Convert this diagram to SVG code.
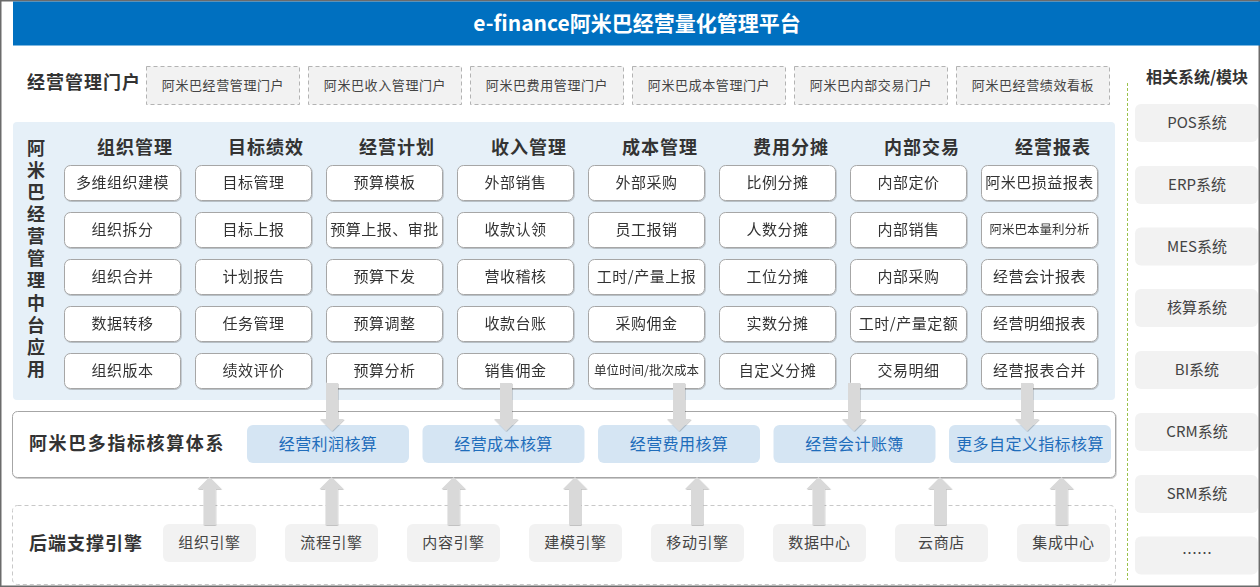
<svg xmlns="http://www.w3.org/2000/svg" width="1260" height="587" viewBox="0 0 1260 587">
<defs>
<style>
text{font-family:"Noto Sans CJK SC","Noto Sans",sans-serif;}
.title{font-size:21px;font-weight:bold;fill:#fff;}
.sec{font-size:18px;font-weight:bold;fill:#333;letter-spacing:1px;}
.hdr{font-size:18px;font-weight:bold;fill:#333;letter-spacing:1px;text-anchor:middle;}
.portal rect{fill:#f2f2f2;stroke:#b3b3b3;stroke-dasharray:4,3;stroke-width:1;}
.portal text{font-size:13px;fill:#444;text-anchor:middle;dominant-baseline:central;letter-spacing:0.6px;}
.nd rect{fill:#fff;stroke:#a6a6a6;stroke-width:1;}
.nd text{font-size:15px;fill:#333;text-anchor:middle;dominant-baseline:central;letter-spacing:0.5px;}
.nd text.sm{font-size:12.5px;letter-spacing:0;}
.acc rect{fill:#d5e5f3;}
.acc text{font-size:16px;fill:#1f6dbb;text-anchor:middle;dominant-baseline:central;letter-spacing:0.4px;}
.be rect{fill:#f2f2f2;}
.be text{font-size:15px;fill:#444;text-anchor:middle;dominant-baseline:central;letter-spacing:0.6px;}
.sys rect{fill:#f2f2f2;}
.sys text{font-size:15px;fill:#444;text-anchor:middle;dominant-baseline:central;}
.arr{fill:#d9d9d9;}
</style>
<filter id="sh" x="-10%" y="-10%" width="120%" height="130%">
<feDropShadow dx="0.6" dy="0.8" stdDeviation="0.7" flood-color="#000" flood-opacity="0.25"/>
</filter>
</defs>
<rect x="0" y="0" width="1260" height="587" fill="#fff"/>
<rect x="0.75" y="0.75" width="1258.5" height="585.5" fill="none" stroke="#6b6b6b" stroke-width="1.5"/>

<g id="header">
<rect x="13" y="1.5" width="1247" height="44" fill="#0070c0"/>
<text class="title" x="637" y="21.5" text-anchor="middle" dominant-baseline="central">e-finance阿米巴经营量化管理平台</text>
</g>

<g id="portal-row">
<text class="sec" x="27" y="81" dominant-baseline="central">经营管理门户</text>
<g class="portal" id="p1"><rect x="146.5" y="66.5" width="153" height="38"/><text x="223" y="84.5">阿米巴经营管理门户</text></g>
<g class="portal" id="p2"><rect x="308.5" y="66.5" width="153" height="38"/><text x="385" y="84.5">阿米巴收入管理门户</text></g>
<g class="portal" id="p3"><rect x="470.5" y="66.5" width="153" height="38"/><text x="547" y="84.5">阿米巴费用管理门户</text></g>
<g class="portal" id="p4"><rect x="632.5" y="66.5" width="153" height="38"/><text x="709" y="84.5">阿米巴成本管理门户</text></g>
<g class="portal" id="p5"><rect x="794.5" y="66.5" width="153" height="38"/><text x="871" y="84.5">阿米巴内部交易门户</text></g>
<g class="portal" id="p6"><rect x="956.5" y="66.5" width="153" height="38"/><text x="1033" y="84.5">阿米巴经营绩效看板</text></g>
</g>

<g id="middle-panel">
<rect x="13" y="122" width="1102" height="278" rx="4" fill="#e6f0f8"/>
<text class="sec" x="36" y="139" writing-mode="vertical-rl" style="letter-spacing:4.1px">阿米巴经营管理中台应用</text>
<g id="headers">
<text class="hdr" x="135" y="146" dominant-baseline="central">组织管理</text>
<text class="hdr" x="266" y="146" dominant-baseline="central">目标绩效</text>
<text class="hdr" x="397" y="146" dominant-baseline="central">经营计划</text>
<text class="hdr" x="529" y="146" dominant-baseline="central">收入管理</text>
<text class="hdr" x="660" y="146" dominant-baseline="central">成本管理</text>
<text class="hdr" x="791" y="146" dominant-baseline="central">费用分摊</text>
<text class="hdr" x="922" y="146" dominant-baseline="central">内部交易</text>
<text class="hdr" x="1053" y="146" dominant-baseline="central">经营报表</text>
</g>
</g>

<g id="grid" filter="url(#sh)">
<g class="nd" id="n1-1"><rect x="64.5" y="165.5" width="116" height="35" rx="6"/><text x="122.5" y="181.5">多维组织建模</text></g>
<g class="nd" id="n1-2"><rect x="64.5" y="212.5" width="116" height="35" rx="6"/><text x="122.5" y="228.5">组织拆分</text></g>
<g class="nd" id="n1-3"><rect x="64.5" y="259.5" width="116" height="35" rx="6"/><text x="122.5" y="275.5">组织合并</text></g>
<g class="nd" id="n1-4"><rect x="64.5" y="306.5" width="116" height="35" rx="6"/><text x="122.5" y="322.5">数据转移</text></g>
<g class="nd" id="n1-5"><rect x="64.5" y="353.5" width="116" height="35" rx="6"/><text x="122.5" y="369.5">组织版本</text></g>

<g class="nd" id="n2-1"><rect x="195.5" y="165.5" width="116" height="35" rx="6"/><text x="253.5" y="181.5">目标管理</text></g>
<g class="nd" id="n2-2"><rect x="195.5" y="212.5" width="116" height="35" rx="6"/><text x="253.5" y="228.5">目标上报</text></g>
<g class="nd" id="n2-3"><rect x="195.5" y="259.5" width="116" height="35" rx="6"/><text x="253.5" y="275.5">计划报告</text></g>
<g class="nd" id="n2-4"><rect x="195.5" y="306.5" width="116" height="35" rx="6"/><text x="253.5" y="322.5">任务管理</text></g>
<g class="nd" id="n2-5"><rect x="195.5" y="353.5" width="116" height="35" rx="6"/><text x="253.5" y="369.5">绩效评价</text></g>

<g class="nd" id="n3-1"><rect x="326.5" y="165.5" width="116" height="35" rx="6"/><text x="384.5" y="181.5">预算模板</text></g>
<g class="nd" id="n3-2"><rect x="326.5" y="212.5" width="116" height="35" rx="6"/><text x="384.5" y="228.5">预算上报、审批</text></g>
<g class="nd" id="n3-3"><rect x="326.5" y="259.5" width="116" height="35" rx="6"/><text x="384.5" y="275.5">预算下发</text></g>
<g class="nd" id="n3-4"><rect x="326.5" y="306.5" width="116" height="35" rx="6"/><text x="384.5" y="322.5">预算调整</text></g>
<g class="nd" id="n3-5"><rect x="326.5" y="353.5" width="116" height="35" rx="6"/><text x="384.5" y="369.5">预算分析</text></g>

<g class="nd" id="n4-1"><rect x="457.5" y="165.5" width="116" height="35" rx="6"/><text x="515.5" y="181.5">外部销售</text></g>
<g class="nd" id="n4-2"><rect x="457.5" y="212.5" width="116" height="35" rx="6"/><text x="515.5" y="228.5">收款认领</text></g>
<g class="nd" id="n4-3"><rect x="457.5" y="259.5" width="116" height="35" rx="6"/><text x="515.5" y="275.5">营收稽核</text></g>
<g class="nd" id="n4-4"><rect x="457.5" y="306.5" width="116" height="35" rx="6"/><text x="515.5" y="322.5">收款台账</text></g>
<g class="nd" id="n4-5"><rect x="457.5" y="353.5" width="116" height="35" rx="6"/><text x="515.5" y="369.5">销售佣金</text></g>

<g class="nd" id="n5-1"><rect x="588.5" y="165.5" width="116" height="35" rx="6"/><text x="646.5" y="181.5">外部采购</text></g>
<g class="nd" id="n5-2"><rect x="588.5" y="212.5" width="116" height="35" rx="6"/><text x="646.5" y="228.5">员工报销</text></g>
<g class="nd" id="n5-3"><rect x="588.5" y="259.5" width="116" height="35" rx="6"/><text x="646.5" y="275.5">工时/产量上报</text></g>
<g class="nd" id="n5-4"><rect x="588.5" y="306.5" width="116" height="35" rx="6"/><text x="646.5" y="322.5">采购佣金</text></g>
<g class="nd" id="n5-5"><rect x="588.5" y="353.5" width="116" height="35" rx="6"/><text class="sm" x="646.5" y="369.5">单位时间/批次成本</text></g>

<g class="nd" id="n6-1"><rect x="719.5" y="165.5" width="116" height="35" rx="6"/><text x="777.5" y="181.5">比例分摊</text></g>
<g class="nd" id="n6-2"><rect x="719.5" y="212.5" width="116" height="35" rx="6"/><text x="777.5" y="228.5">人数分摊</text></g>
<g class="nd" id="n6-3"><rect x="719.5" y="259.5" width="116" height="35" rx="6"/><text x="777.5" y="275.5">工位分摊</text></g>
<g class="nd" id="n6-4"><rect x="719.5" y="306.5" width="116" height="35" rx="6"/><text x="777.5" y="322.5">实数分摊</text></g>
<g class="nd" id="n6-5"><rect x="719.5" y="353.5" width="116" height="35" rx="6"/><text x="777.5" y="369.5">自定义分摊</text></g>

<g class="nd" id="n7-1"><rect x="850.5" y="165.5" width="116" height="35" rx="6"/><text x="908.5" y="181.5">内部定价</text></g>
<g class="nd" id="n7-2"><rect x="850.5" y="212.5" width="116" height="35" rx="6"/><text x="908.5" y="228.5">内部销售</text></g>
<g class="nd" id="n7-3"><rect x="850.5" y="259.5" width="116" height="35" rx="6"/><text x="908.5" y="275.5">内部采购</text></g>
<g class="nd" id="n7-4"><rect x="850.5" y="306.5" width="116" height="35" rx="6"/><text x="908.5" y="322.5">工时/产量定额</text></g>
<g class="nd" id="n7-5"><rect x="850.5" y="353.5" width="116" height="35" rx="6"/><text x="908.5" y="369.5">交易明细</text></g>

<g class="nd" id="n8-1"><rect x="981.5" y="165.5" width="116" height="35" rx="6"/><text x="1039.5" y="181.5">阿米巴损益报表</text></g>
<g class="nd" id="n8-2"><rect x="981.5" y="212.5" width="116" height="35" rx="6"/><text class="sm" x="1039.5" y="228.5">阿米巴本量利分析</text></g>
<g class="nd" id="n8-3"><rect x="981.5" y="259.5" width="116" height="35" rx="6"/><text x="1039.5" y="275.5">经营会计报表</text></g>
<g class="nd" id="n8-4"><rect x="981.5" y="306.5" width="116" height="35" rx="6"/><text x="1039.5" y="322.5">经营明细报表</text></g>
<g class="nd" id="n8-5"><rect x="981.5" y="353.5" width="116" height="35" rx="6"/><text x="1039.5" y="369.5">经营报表合并</text></g>
</g>

<g id="accounting">
<rect x="12.5" y="411.5" width="1103" height="66" rx="5" fill="#fff" stroke="#a6a6a6" stroke-width="1" filter="url(#sh)"/>
<text class="sec" x="29" y="441.5" dominant-baseline="central" style="letter-spacing:1.6px">阿米巴多指标核算体系</text>
<g class="acc" id="a1"><rect x="247" y="425" width="162" height="38" rx="6"/><text x="328" y="442.5">经营利润核算</text></g>
<g class="acc" id="a2"><rect x="422.5" y="425" width="162" height="38" rx="6"/><text x="503.5" y="442.5">经营成本核算</text></g>
<g class="acc" id="a3"><rect x="598" y="425" width="162" height="38" rx="6"/><text x="679" y="442.5">经营费用核算</text></g>
<g class="acc" id="a4"><rect x="773.5" y="425" width="162" height="38" rx="6"/><text x="854.5" y="442.5">经营会计账簿</text></g>
<g class="acc" id="a5"><rect x="949" y="425" width="162" height="38" rx="6"/><text x="1030" y="442.5">更多自定义指标核算</text></g>
</g>

<g id="backend">
<rect x="12.5" y="505.5" width="1103" height="79" rx="5" fill="none" stroke="#c8c8c8" stroke-dasharray="4,3"/>
<text class="sec" x="29" y="541.5" dominant-baseline="central">后端支撑引擎</text>
<g class="be" id="b1"><rect x="163" y="524" width="93" height="38" rx="6"/><text x="209.5" y="541.5">组织引擎</text></g>
<g class="be" id="b2"><rect x="285" y="524" width="93" height="38" rx="6"/><text x="331.5" y="541.5">流程引擎</text></g>
<g class="be" id="b3"><rect x="407" y="524" width="93" height="38" rx="6"/><text x="453.5" y="541.5">内容引擎</text></g>
<g class="be" id="b4"><rect x="529" y="524" width="93" height="38" rx="6"/><text x="575.5" y="541.5">建模引擎</text></g>
<g class="be" id="b5"><rect x="651" y="524" width="93" height="38" rx="6"/><text x="697.5" y="541.5">移动引擎</text></g>
<g class="be" id="b6"><rect x="773" y="524" width="93" height="38" rx="6"/><text x="819.5" y="541.5">数据中心</text></g>
<g class="be" id="b7"><rect x="895" y="524" width="93" height="38" rx="6"/><text x="941.5" y="541.5">云商店</text></g>
<g class="be" id="b8"><rect x="1017" y="524" width="93" height="38" rx="6"/><text x="1063.5" y="541.5">集成中心</text></g>
</g>

<g id="connectors" class="arr" filter="url(#sh)">
<path d="M326,383H338V419H344L332,431L320,419H326Z"/>
<path d="M500,383H512V419H518L506,431L494,419H500Z"/>
<path d="M673,383H685V419H691L679,431L667,419H673Z"/>
<path d="M848,383H860V419H866L854,431L842,419H848Z"/>
<path d="M1021,383H1033V419H1039L1027,431L1015,419H1021Z"/>
<path d="M209.5,477L221.5,489H215.5V525H203.5V489H197.5Z"/>
<path d="M331.5,477L343.5,489H337.5V525H325.5V489H319.5Z"/>
<path d="M453.5,477L465.5,489H459.5V525H447.5V489H441.5Z"/>
<path d="M575,477L587,489H581V525H569V489H563Z"/>
<path d="M697,477L709,489H703V525H691V489H685Z"/>
<path d="M818.5,477L830.5,489H824.5V525H812.5V489H806.5Z"/>
<path d="M940,477L952,489H946V525H934V489H928Z"/>
<path d="M1061.5,477L1073.5,489H1067.5V525H1055.5V489H1049.5Z"/>
</g>

<g id="related">
<line x1="1127.5" y1="83" x2="1127.5" y2="580" stroke="#9bc34a" stroke-width="1" stroke-dasharray="3,2"/>
<text x="1197" y="75.5" text-anchor="middle" dominant-baseline="central" style="font-size:16px;font-weight:bold;fill:#333">相关系统/模块</text>
<g class="sys" id="s1"><rect x="1135" y="104" width="123" height="38" rx="6"/><text x="1197" y="121.5">POS系统</text></g>
<g class="sys" id="s2"><rect x="1135" y="166" width="123" height="38" rx="6"/><text x="1197" y="183.5">ERP系统</text></g>
<g class="sys" id="s3"><rect x="1135" y="227.5" width="123" height="38" rx="6"/><text x="1197" y="245">MES系统</text></g>
<g class="sys" id="s4"><rect x="1135" y="289" width="123" height="38" rx="6"/><text x="1197" y="306.5">核算系统</text></g>
<g class="sys" id="s5"><rect x="1135" y="351" width="123" height="38" rx="6"/><text x="1197" y="368.5">BI系统</text></g>
<g class="sys" id="s6"><rect x="1135" y="413" width="123" height="38" rx="6"/><text x="1197" y="430.5">CRM系统</text></g>
<g class="sys" id="s7"><rect x="1135" y="475" width="123" height="38" rx="6"/><text x="1197" y="492.5">SRM系统</text></g>
<g class="sys" id="s8"><rect x="1135" y="536.5" width="123" height="38" rx="6"/><text x="1197" y="552">……</text></g>
</g>
</svg>
